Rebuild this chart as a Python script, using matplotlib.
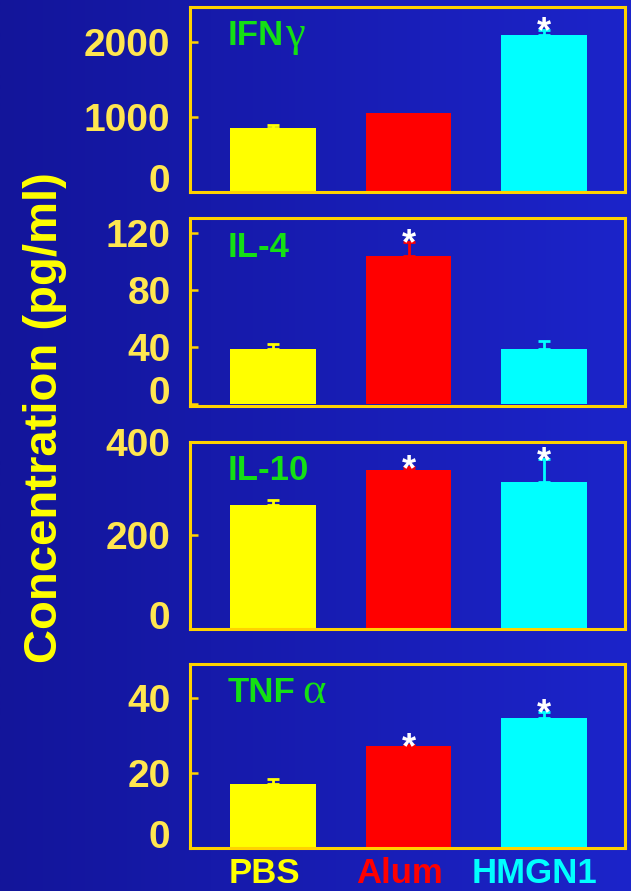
import numpy as np
import matplotlib
matplotlib.use("Agg")
import matplotlib.pyplot as plt
from matplotlib.transforms import ScaledTranslation

# ---------------- data ----------------
groups = ["PBS", "Alum", "HMGN1"]
cytokine_names = ["IFN", "IL-4", "IL-10", "TNF"]
cytokine_greek = ["γ", "", "", "α"]

ifng_mean = [855, 1050, 2090]
ifng_err = [35, 0, 70]
il4_mean = [38.6, 104.3, 38.6]
il4_err = [3.7, 9.7, 5.8]
il10_mean = [264, 340, 313]
il10_err = [12, 5, 49]
tnfa_mean = [17.1, 27.2, 34.8]
tnfa_err = [1.4, 0.3, 1.6]

ifng_sig = [False, False, True]
il4_sig = [False, True, False]
il10_sig = [False, True, True]
tnfa_sig = [False, True, True]

ifng_ticks = [0, 1000, 2000]
il4_ticks = [0, 40, 80, 120]
il10_ticks = [0, 200, 400]
tnfa_ticks = [0, 20, 40]

ylabel = "Concentration (pg/ml)"

# ---------------- style ----------------
bar_colors = ["#FFFF00", "#FF0000", "#00FFFF"]
spine_color = "#FFD200"
tick_label_color = "#FFE650"
label_green = "#14E014"
W, H = 631, 891
DPI = 100

panels = [
    dict(mean=ifng_mean, err=ifng_err, sig=ifng_sig, ticks=ifng_ticks, ylim=(0, 2460),
         rect=(7.3, 192.3), greek_gap=1),
    dict(mean=il4_mean, err=il4_err, sig=il4_sig, ticks=il4_ticks, ylim=(-1, 130.5),
         rect=(218.3, 405.7), greek_gap=1),
    dict(mean=il10_mean, err=il10_err, sig=il10_sig, ticks=il10_ticks, ylim=(0, 400),
         rect=(441.7, 629.0), greek_gap=1),
    dict(mean=tnfa_mean, err=tnfa_err, sig=tnfa_sig, ticks=tnfa_ticks, ylim=(0, 49.2),
         rect=(664.0, 848.3), greek_gap=5),
]

plt.rcParams["font.family"] = ["Liberation Sans", "DejaVu Sans"]

fig = plt.figure(figsize=(W / DPI, H / DPI), dpi=DPI)

# background gradient
bg = fig.add_axes([0, 0, 1, 1], zorder=-10)
c0 = np.array([0x13, 0x15, 0x9A]) / 255.0
c1 = np.array([0x1C, 0x24, 0xCA]) / 255.0
t = np.linspace(0, 1, 256)
grad = (c0[None, :] * (1 - t[:, None]) + c1[None, :] * t[:, None])[None, :, :]
bg.imshow(grad, aspect="auto", extent=[0, 1, 0, 1])
bg.set_axis_off()

x = np.arange(len(groups))
left_px, right_px = 190, 625
axes = []
for k, p in enumerate(panels):
    top_px, bot_px = p["rect"]
    ax = fig.add_axes([left_px / W, 1 - bot_px / H, (right_px - left_px) / W, (bot_px - top_px) / H])
    ax.set_facecolor("none")
    ax.bar(x, p["mean"], width=0.63, color=bar_colors, zorder=1)
    for i in range(len(groups)):
        if p["err"][i] > 0:
            ax.errorbar(x[i], p["mean"][i], yerr=[[0], [p["err"][i]]], fmt="none",
                        ecolor=bar_colors[i], elinewidth=2, capsize=4, capthick=2, zorder=2)
        if p["sig"][i]:
            ax.annotate("*", xy=(x[i], p["mean"][i] + p["err"][i]), xytext=(0, -9),
                        textcoords="offset points", ha="center", va="baseline",
                        fontsize=26, fontweight="bold", color="white", zorder=3)
    ax.set_xlim(-0.613, 2.598)
    ax.set_ylim(*p["ylim"])
    ax.set_yticks(p["ticks"])
    ax.set_yticklabels([str(v) for v in p["ticks"]])
    for sp in ax.spines.values():
        sp.set_color(spine_color)
        sp.set_linewidth(2.2)
        sp.set_zorder(4)
    ax.tick_params(axis="y", direction="in", length=6, width=1.8, color=spine_color,
                   labelcolor=tick_label_color, labelsize=28, pad=14)
    for lab in ax.get_yticklabels():
        lab.set_fontweight("bold")
    # raise the "0" label
    zero_lab = ax.get_yticklabels()[0]
    zero_lab.set_transform(zero_lab.get_transform() + ScaledTranslation(0, 14 / DPI, fig.dpi_scale_trans))
    if k < len(panels) - 1:
        ax.set_xticks([])
    else:
        ax.set_xticks(x)
        ax.set_xticklabels(groups)
        ax.tick_params(axis="x", length=0, pad=6, labelsize=25)
        for lab, c in zip(ax.get_xticklabels(), bar_colors):
            lab.set_color(c)
            lab.set_fontweight("bold")
            lab.set_transform(lab.get_transform() + ScaledTranslation(-9 / DPI, 0, fig.dpi_scale_trans))
    # cytokine label
    txt = ax.text(0.087, 0.795, cytokine_names[k], transform=ax.transAxes, ha="left", va="baseline",
                  fontsize=25, fontweight="bold", color=label_green, zorder=5)
    if cytokine_greek[k]:
        ax.annotate(cytokine_greek[k], xy=(1, 0), xycoords=txt, xytext=(p["greek_gap"], -2),
                    textcoords="offset points", ha="left", va="bottom",
                    fontsize=32, family=["Liberation Serif", "DejaVu Serif"], color=label_green, zorder=5)
    axes.append(ax)

fig.text(45 / W, 1 - 418 / H, ylabel, rotation=90, ha="center", va="center",
         fontsize=34, fontweight="bold", color="#FFFF00")

fig.savefig("out.png", dpi=DPI)
